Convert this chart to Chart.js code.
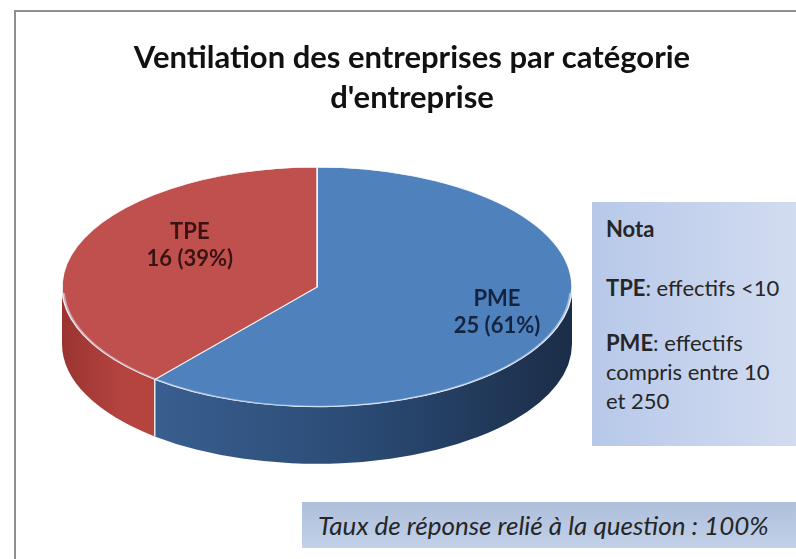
<!DOCTYPE html>
<html lang="fr">
<head>
<meta charset="utf-8">
<title>Ventilation des entreprises par catégorie</title>
<script src="https://cdn.jsdelivr.net/npm/chart.js@4.4.1/dist/chart.umd.min.js"></script>
<style>
  html, body { margin: 0; padding: 0; background: #fff; overflow: hidden; }
  #wrap { position: relative; width: 796px; height: 559px; overflow: hidden; }
  #frame {
    position: absolute; left: 14px; top: 10px; width: 820px; height: 600px;
    border: 2px solid #8e8e8e; box-sizing: border-box;
  }
  #chart { position: absolute; left: 0; top: 0; }
  .nota {
    position: absolute; left: 592px; top: 202px; width: 204px; height: 244px;
    box-sizing: border-box; padding: 12px 0 0 14px;
    background: linear-gradient(90deg, #b7c8e9 0%, #d2dcf0 100%);
    font-family: Lato, "Open Sans", sans-serif; font-size: 22px; line-height: 29px;
    color: #262626; white-space: nowrap;
  }
  .nota p { margin: 0; }
  .nota b { font-weight: 700; }
  .taux {
    position: absolute; left: 302px; top: 502px; width: 494px; height: 46px;
    box-sizing: border-box; padding-left: 16px;
    background: linear-gradient(180deg, #aebfdc 0%, #c2d1e8 100%);
    font-family: Lato, "Open Sans", sans-serif; font-style: italic; font-size: 26px;
    line-height: 46px; color: #262626; white-space: nowrap;
  }
</style>
</head>
<body>
<div id="wrap">
  <div id="frame"></div>
  <canvas id="chart" width="796" height="559"></canvas>
  <div class="nota">
    <p><b>Nota</b></p>
    <p style="margin-top: 30px;"><b>TPE</b>: effectifs &lt;10</p>
    <p style="margin-top: 26px;"><b>PME</b>: effectifs<br>compris entre 10<br>et 250</p>
  </div>
  <div class="taux">Taux de réponse relié à la question : 100%</div>
</div>
<script>
// données
const categories = ['PME', 'TPE'];
const effectifs = [25, 16];
const titleLines = ['Ventilation des entreprises par catégorie', "d'entreprise"];

const topColors = ['#4f81bd', '#c0504d'];
const labelColors = ['#14233f', '#3a1412'];
const FONT = 'Lato, "Open Sans", sans-serif';
const TWO_PI = Math.PI * 2;

const total = effectifs.reduce((a, b) => a + b, 0);

// pie "3D" : on écrase le camembert verticalement et on dessine le flanc
const pie3d = {
    id: 'pie3d',
    beforeDatasetDraw(chart, args, opts) {
        const ctx = chart.ctx;
        const arcs = args.meta.data;
        if (!arcs.length) return;
        const { x, y, outerRadius: r } = arcs[0];
        const d = opts.depth / opts.tilt;

        ctx.save();
        ctx.translate(opts.centerX, y);
        ctx.scale(1, opts.tilt);
        ctx.translate(-x, -y);

        arcs.forEach((arc, i) => {
            const grad = ctx.createLinearGradient(x - r, 0, x + r, 0);
            opts.sideStops[i].forEach(([t, c]) => grad.addColorStop(t, c));
            for (let k = -1; k <= 1; k++) {
                const lo = Math.max(arc.startAngle, k * TWO_PI);
                const hi = Math.min(arc.endAngle, k * TWO_PI + Math.PI);
                if (hi <= lo) continue;
                ctx.beginPath();
                ctx.arc(x, y, r, lo, hi);
                ctx.arc(x, y + d, r, hi, lo, true);
                ctx.closePath();
                ctx.fillStyle = grad;
                ctx.fill();
            }
        });

        // arêtes verticales entre les parts
        ctx.strokeStyle = 'rgba(255,255,255,0.85)';
        ctx.lineWidth = 1.5;
        arcs.forEach(arc => {
            const a = ((arc.startAngle % TWO_PI) + TWO_PI) % TWO_PI;
            if (a > 0 && a < Math.PI) {
                const px = x + r * Math.cos(a);
                const py = y + r * Math.sin(a);
                ctx.beginPath();
                ctx.moveTo(px, py);
                ctx.lineTo(px, py + d);
                ctx.stroke();
            }
        });
    },
    afterDatasetDraw(chart, args, opts) {
        const ctx = chart.ctx;
        const arcs = args.meta.data;
        if (!arcs.length) return;
        const { x, y, outerRadius: r } = arcs[0];

        // reflet sur le bord avant
        ctx.beginPath();
        ctx.arc(x, y, r - 1, 0.05, Math.PI - 0.05);
        ctx.strokeStyle = 'rgba(220,232,250,0.55)';
        ctx.lineWidth = 3;
        ctx.stroke();
        ctx.restore();

        // étiquettes
        ctx.save();
        ctx.textAlign = 'center';
        ctx.textBaseline = 'middle';
        ctx.font = `bold ${opts.labelSize}px ${FONT}`;
        arcs.forEach((arc, i) => {
            const mid = (arc.startAngle + arc.endAngle) / 2;
            const f = opts.labelRadius[i];
            const lx = opts.centerX + f * r * Math.cos(mid);
            const ly = y + opts.tilt * f * r * Math.sin(mid) + opts.labelDy[i];
            const pct = Math.round(effectifs[i] / total * 100);
            ctx.fillStyle = labelColors[i];
            ctx.fillText(categories[i], lx, ly - opts.labelGap / 2);
            ctx.fillText(`${effectifs[i]} (${pct}%)`, lx, ly + opts.labelGap / 2);
        });
        ctx.restore();
    }
};

new Chart(document.getElementById('chart'), {
    type: 'pie',
    data: {
        labels: categories,
        datasets: [{
            data: effectifs,
            backgroundColor: topColors,
            borderColor: 'rgba(255,255,255,0.9)',
            borderWidth: 1.5,
            radius: 255,
            clip: false
        }]
    },
    options: {
        responsive: false,
        animation: false,
        events: [],
        layout: { padding: { left: 28, bottom: 103 } },
        plugins: {
            legend: { display: false },
            tooltip: { enabled: false },
            title: {
                display: true,
                text: titleLines,
                color: '#111',
                font: { family: FONT, size: 31, weight: 'bold', lineHeight: 1.29 },
                padding: { top: 38, bottom: 0 }
            },
            pie3d: {
                centerX: 317,
                tilt: 0.47,
                depth: 57,
                sideStops: [
                    [[0, '#4470a3'], [0.15, '#3a6092'], [0.6, '#2a4a73'], [1, '#1b2d48']],
                    [[0, '#9a3431'], [0.12, '#b5443f'], [1, '#a83d39']]
                ],
                labelRadius: [0.75, 0.53],
                labelDy: [-5, -20],
                labelGap: 27,
                labelSize: 22
            }
        }
    },
    plugins: [pie3d]
});
</script>
</body>
</html>
